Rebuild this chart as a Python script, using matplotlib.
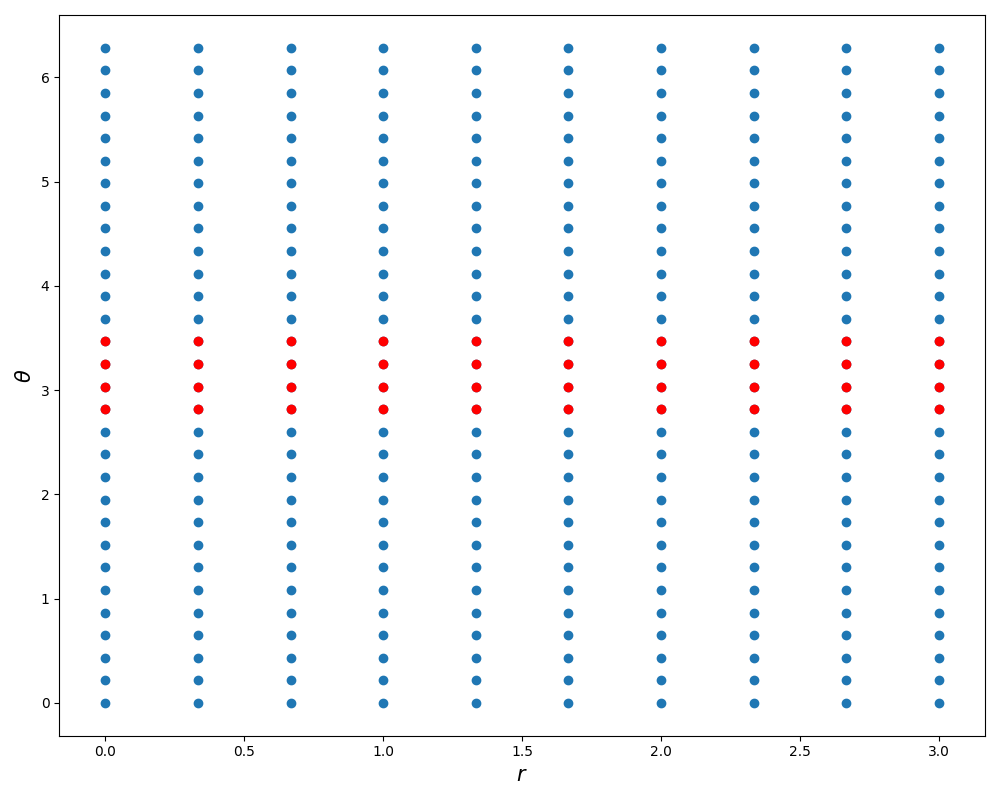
import matplotlib
matplotlib.use("Agg")
import matplotlib.pyplot as plt
import numpy as np

# grid values
r_vals = [0.0, 0.333, 0.667, 1.0, 1.333, 1.667, 2.0, 2.333, 2.667, 3.0]
theta_vals = [0.0, 0.217, 0.433, 0.65, 0.867, 1.083, 1.3, 1.517, 1.733, 1.95,
              2.167, 2.383, 2.6, 2.817, 3.033, 3.25, 3.467, 3.683, 3.9, 4.117,
              4.333, 4.55, 4.767, 4.983, 5.2, 5.417, 5.633, 5.85, 6.067, 6.283]
# highlighted theta rows (red)
theta_red = [2.817, 3.033, 3.25, 3.467]

R, T = np.meshgrid(r_vals, theta_vals)
Rr, Tr = np.meshgrid(r_vals, theta_red)

fig, ax = plt.subplots(figsize=(10, 8), dpi=100)
ax.scatter(R.ravel(), T.ravel())
ax.scatter(Rr.ravel(), Tr.ravel(), color='red')
ax.set_xlim(-0.166, 3.166)
ax.set_xlabel(r'$r$', fontsize=15)
ax.set_ylabel(r'$\theta$', fontsize=15)

fig.tight_layout()
fig.savefig("out.png")
